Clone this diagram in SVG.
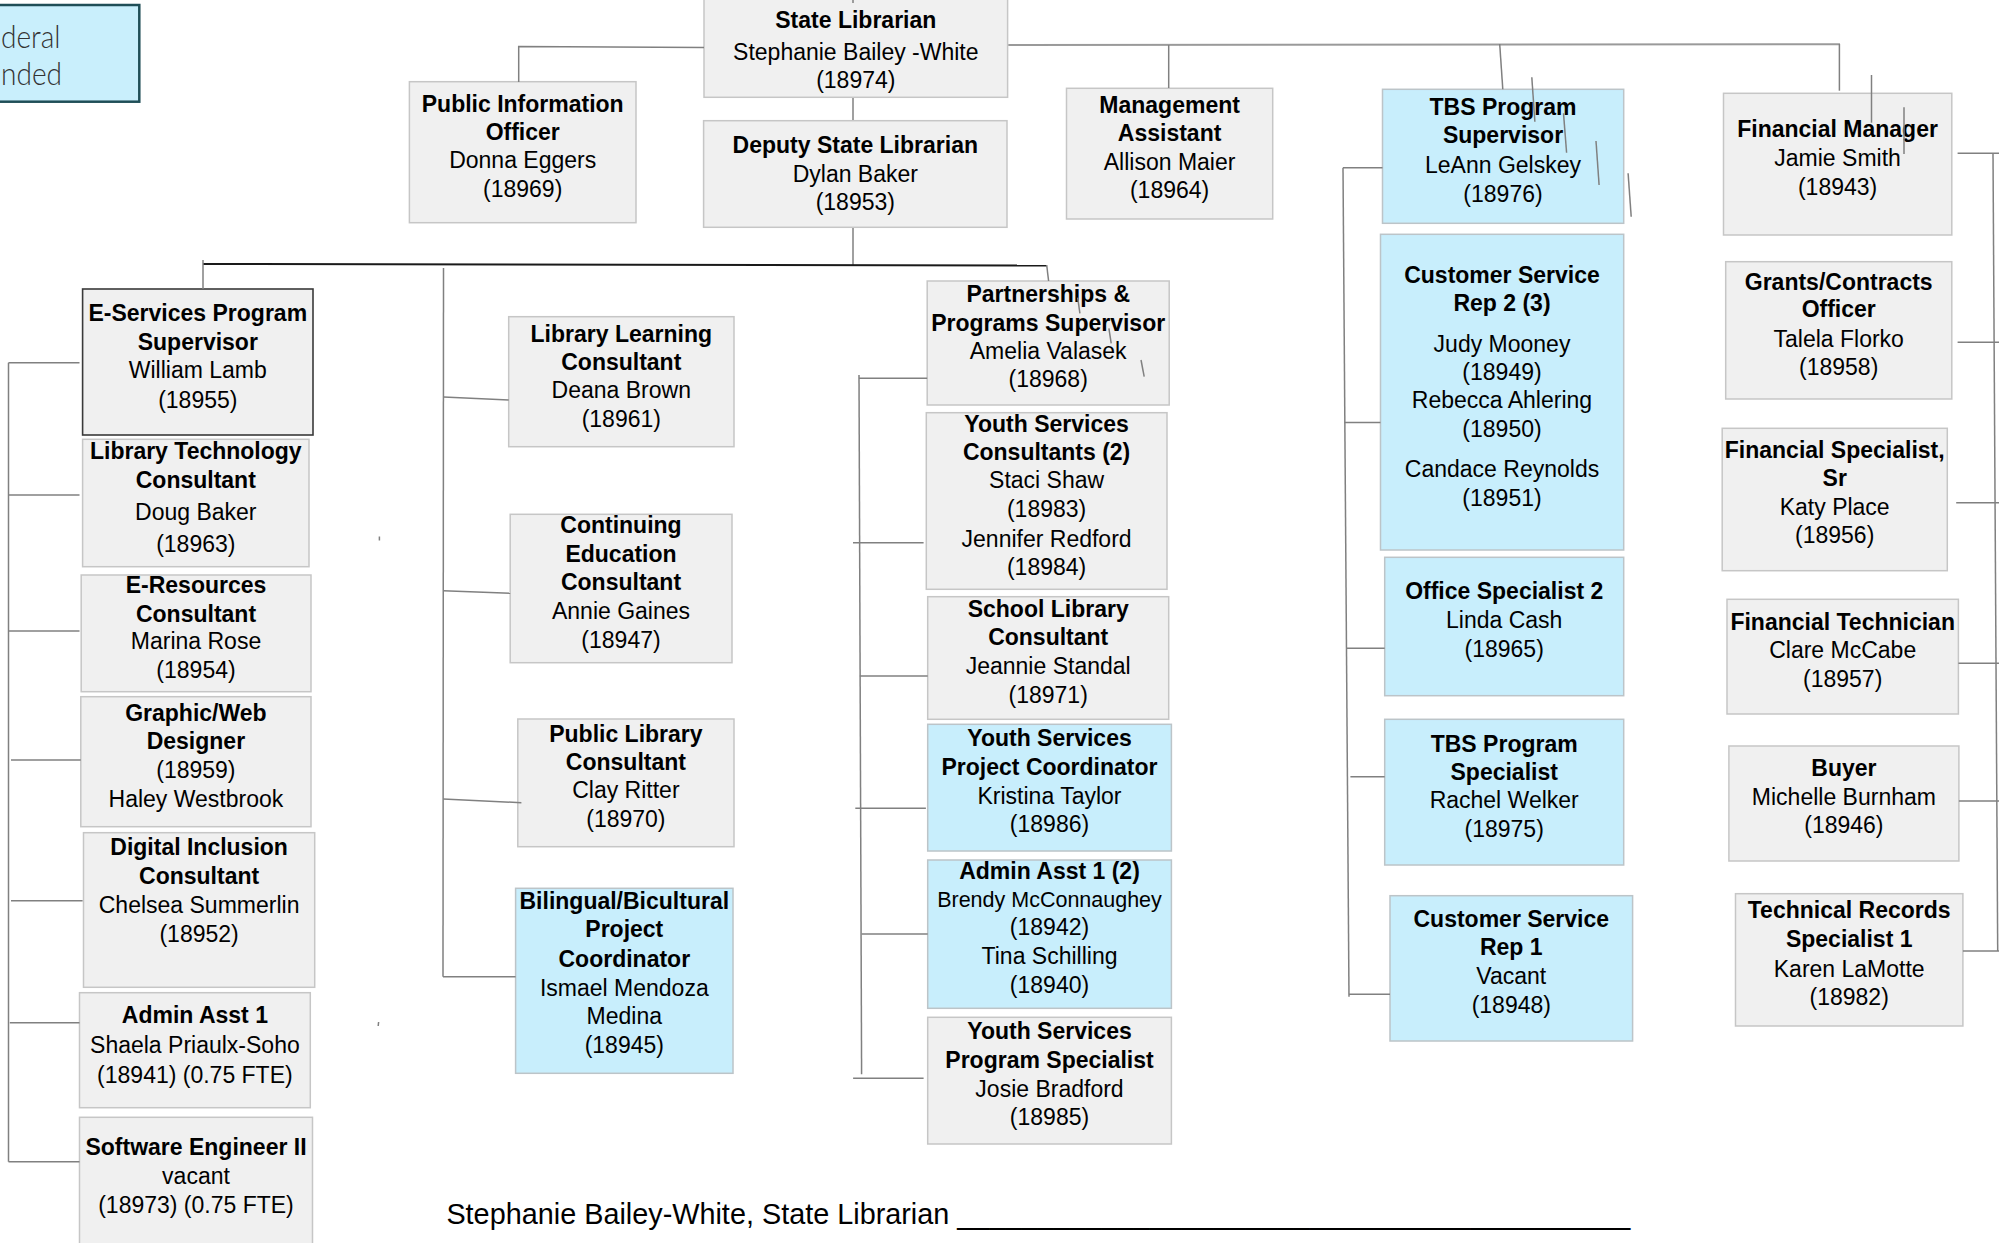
<svg xmlns="http://www.w3.org/2000/svg" width="1999" height="1243" viewBox="0 0 1999 1243">
<style>
.box{fill:#f0f0f0;stroke:#c6c6c6;stroke-width:1.5}
.blue{fill:#c8eefc;stroke:#bcc4c8;stroke-width:1.5}
.sup{fill:#f0f0f0;stroke:#3a3a3a;stroke-width:1.6}
text{font-family:"Liberation Sans",Arial,sans-serif;font-size:23px;fill:#000;text-anchor:middle}
.b{font-weight:700}
.sm{font-size:21.5px}
.ln{stroke:#808080;stroke-width:1.5;fill:none}
.bus{stroke:#1a1a1a;stroke-width:2;fill:none}
.top{stroke:#9a9a9a;stroke-width:2;fill:none}
.legend{font-family:Lato,"Open Sans",sans-serif;font-weight:300;font-size:31px;fill:#333;text-anchor:start}
.sig{font-size:29px;text-anchor:start}
</style>
<rect width="1999" height="1243" fill="#fff"/>

<g id="federal-funded-legend">
<rect x="-10" y="5" width="149.3" height="96.7" fill="#c9effc" stroke="#1f4e57" stroke-width="2.5"/>
<text class="legend" x="1" y="47.5" textLength="59.5" lengthAdjust="spacingAndGlyphs">deral</text>
<text class="legend" x="1" y="85" textLength="61" lengthAdjust="spacingAndGlyphs">nded</text>
</g>

<g id="state-librarian">
<rect class="box" x="704" y="-1" width="303.6" height="98.3"/>
<text class="b" x="855.8" y="28.3">State Librarian</text>
<text x="855.8" y="60">Stephanie Bailey -White</text>
<text x="855.8" y="88.3">(18974)</text>
</g>

<g id="public-information-officer">
<rect class="box" x="409.4" y="81.7" width="226.6" height="141"/>
<text class="b" x="522.7" y="112">Public Information</text>
<text class="b" x="522.7" y="140">Officer</text>
<text x="522.7" y="168">Donna Eggers</text>
<text x="522.7" y="197">(18969)</text>
</g>

<g id="deputy-state-librarian">
<rect class="box" x="703.6" y="120.7" width="303.4" height="106.6"/>
<text class="b" x="855.3" y="152.7">Deputy State Librarian</text>
<text x="855.3" y="181.7">Dylan Baker</text>
<text x="855.3" y="210">(18953)</text>
</g>

<g id="management-assistant">
<rect class="box" x="1066.5" y="88.3" width="206.2" height="130.7"/>
<text class="b" x="1169.6" y="113.3">Management</text>
<text class="b" x="1169.6" y="140.7">Assistant</text>
<text x="1169.6" y="170">Allison Maier</text>
<text x="1169.6" y="198.3">(18964)</text>
</g>

<g id="tbs-program-supervisor">
<rect class="blue" x="1382.5" y="89.3" width="241.2" height="134"/>
<text class="b" x="1503" y="115">TBS Program</text>
<text class="b" x="1503" y="143.3">Supervisor</text>
<text x="1503" y="172.7">LeAnn Gelskey</text>
<text x="1503" y="201.7">(18976)</text>
</g>

<g id="financial-manager">
<rect class="box" x="1723.5" y="93.3" width="228.3" height="141.7"/>
<text class="b" x="1837.6" y="136.7">Financial Manager</text>
<text x="1837.6" y="165.7">Jamie Smith</text>
<text x="1837.6" y="195">(18943)</text>
</g>

<g id="e-services-program-supervisor">
<rect class="sup" x="82.6" y="289" width="230.4" height="146"/>
<text class="b" x="197.8" y="320.7">E-Services Program</text>
<text class="b" x="197.8" y="350">Supervisor</text>
<text x="197.8" y="378">William Lamb</text>
<text x="197.8" y="408">(18955)</text>
</g>

<g id="library-learning-consultant">
<rect class="box" x="508.7" y="316.7" width="225.3" height="130"/>
<text class="b" x="621.3" y="341.7">Library Learning</text>
<text class="b" x="621.3" y="370">Consultant</text>
<text x="621.3" y="398">Deana Brown</text>
<text x="621.3" y="426.7">(18961)</text>
</g>

<g id="partnerships-programs-supervisor">
<rect class="box" x="927.2" y="281" width="242" height="124"/>
<text class="b" x="1048.2" y="301.7">Partnerships &amp;</text>
<text class="b" x="1048.2" y="330.7">Programs Supervisor</text>
<text x="1048.2" y="359.3">Amelia Valasek</text>
<text x="1048.2" y="386.7">(18968)</text>
</g>

<g id="customer-service-rep-2">
<rect class="blue" x="1380.5" y="234.3" width="243.2" height="315.7"/>
<text class="b" x="1502" y="282.7">Customer Service</text>
<text class="b" x="1502" y="310.7">Rep 2 (3)</text>
<text x="1502" y="351.7">Judy Mooney</text>
<text x="1502" y="380">(18949)</text>
<text x="1502" y="408.3">Rebecca Ahlering</text>
<text x="1502" y="437.3">(18950)</text>
<text x="1502" y="477.3">Candace Reynolds</text>
<text x="1502" y="506">(18951)</text>
</g>

<g id="grants-contracts-officer">
<rect class="box" x="1725.7" y="261.7" width="226.1" height="137.3"/>
<text class="b" x="1838.7" y="290">Grants/Contracts</text>
<text class="b" x="1838.7" y="317.3">Officer</text>
<text x="1838.7" y="346.7">Talela Florko</text>
<text x="1838.7" y="375">(18958)</text>
</g>

<g id="library-technology-consultant">
<rect class="box" x="82.6" y="439.3" width="226.4" height="127.4"/>
<text class="b" x="195.8" y="459.3">Library Technology</text>
<text class="b" x="195.8" y="487.7">Consultant</text>
<text x="195.8" y="520">Doug Baker</text>
<text x="195.8" y="551.7">(18963)</text>
</g>

<g id="youth-services-consultants">
<rect class="box" x="926.3" y="412.7" width="240.7" height="176.6"/>
<text class="b" x="1046.6" y="431.7">Youth Services</text>
<text class="b" x="1046.6" y="460">Consultants (2)</text>
<text x="1046.6" y="488.3">Staci Shaw</text>
<text x="1046.6" y="517.3">(18983)</text>
<text x="1046.6" y="546.7">Jennifer Redford</text>
<text x="1046.6" y="575">(18984)</text>
</g>

<g id="financial-specialist-sr">
<rect class="box" x="1722.2" y="428.3" width="225.1" height="142.4"/>
<text class="b" x="1834.7" y="458.3">Financial Specialist,</text>
<text class="b" x="1834.7" y="486">Sr</text>
<text x="1834.7" y="515">Katy Place</text>
<text x="1834.7" y="543.3">(18956)</text>
</g>

<g id="e-resources-consultant">
<rect class="box" x="81.2" y="575" width="229.8" height="116.7"/>
<text class="b" x="196" y="592.7">E-Resources</text>
<text class="b" x="196" y="621.7">Consultant</text>
<text x="196" y="649.3">Marina Rose</text>
<text x="196" y="678.3">(18954)</text>
</g>

<g id="continuing-education-consultant">
<rect class="box" x="510.2" y="514.3" width="221.8" height="148.4"/>
<text class="b" x="621" y="532.7">Continuing</text>
<text class="b" x="621" y="561.7">Education</text>
<text class="b" x="621" y="590">Consultant</text>
<text x="621" y="619.3">Annie Gaines</text>
<text x="621" y="647.7">(18947)</text>
</g>

<g id="school-library-consultant">
<rect class="box" x="927.7" y="596.7" width="241" height="122.6"/>
<text class="b" x="1048.2" y="616.7">School Library</text>
<text class="b" x="1048.2" y="645">Consultant</text>
<text x="1048.2" y="674">Jeannie Standal</text>
<text x="1048.2" y="702.7">(18971)</text>
</g>

<g id="office-specialist-2">
<rect class="blue" x="1384.7" y="557.3" width="239" height="138.4"/>
<text class="b" x="1504.2" y="599">Office Specialist 2</text>
<text x="1504.2" y="628.3">Linda Cash</text>
<text x="1504.2" y="657.3">(18965)</text>
</g>

<g id="financial-technician">
<rect class="box" x="1727" y="599.3" width="231.4" height="114.7"/>
<text class="b" x="1842.7" y="630">Financial Technician</text>
<text x="1842.7" y="658.3">Clare McCabe</text>
<text x="1842.7" y="687.3">(18957)</text>
</g>

<g id="graphic-web-designer">
<rect class="box" x="80.8" y="696.7" width="230.2" height="130"/>
<text class="b" x="195.9" y="720.7">Graphic/Web</text>
<text class="b" x="195.9" y="749.3">Designer</text>
<text x="195.9" y="778.3">(18959)</text>
<text x="195.9" y="807.3">Haley Westbrook</text>
</g>

<g id="public-library-consultant">
<rect class="box" x="517.8" y="719" width="216.2" height="127.7"/>
<text class="b" x="625.9" y="741.7">Public Library</text>
<text class="b" x="625.9" y="770">Consultant</text>
<text x="625.9" y="798.3">Clay Ritter</text>
<text x="625.9" y="827.3">(18970)</text>
</g>

<g id="youth-services-project-coordinator">
<rect class="blue" x="927.7" y="724.3" width="243.7" height="126.7"/>
<text class="b" x="1049.5" y="746">Youth Services</text>
<text class="b" x="1049.5" y="775">Project Coordinator</text>
<text x="1049.5" y="804">Kristina Taylor</text>
<text x="1049.5" y="832.3">(18986)</text>
</g>

<g id="tbs-program-specialist">
<rect class="blue" x="1384.7" y="719.3" width="239" height="145.7"/>
<text class="b" x="1504.2" y="751.7">TBS Program</text>
<text class="b" x="1504.2" y="780">Specialist</text>
<text x="1504.2" y="808.3">Rachel Welker</text>
<text x="1504.2" y="836.7">(18975)</text>
</g>

<g id="buyer">
<rect class="box" x="1728.9" y="746" width="230" height="115"/>
<text class="b" x="1843.9" y="776">Buyer</text>
<text x="1843.9" y="805">Michelle Burnham</text>
<text x="1843.9" y="833.3">(18946)</text>
</g>

<g id="digital-inclusion-consultant">
<rect class="box" x="83.5" y="832.7" width="231.2" height="154.6"/>
<text class="b" x="199.1" y="855">Digital Inclusion</text>
<text class="b" x="199.1" y="884">Consultant</text>
<text x="199.1" y="912.7">Chelsea Summerlin</text>
<text x="199.1" y="941.7">(18952)</text>
</g>

<g id="bilingual-bicultural-project-coordinator">
<rect class="blue" x="515.6" y="888.3" width="217.4" height="185"/>
<text class="b" x="624.3" y="909.3">Bilingual/Bicultural</text>
<text class="b" x="624.3" y="937.3">Project</text>
<text class="b" x="624.3" y="966.7">Coordinator</text>
<text x="624.3" y="995.7">Ismael Mendoza</text>
<text x="624.3" y="1024">Medina</text>
<text x="624.3" y="1052.7">(18945)</text>
</g>

<g id="admin-asst-1-2">
<rect class="blue" x="927.7" y="860" width="243.7" height="148.3"/>
<text class="b" x="1049.5" y="879.3">Admin Asst 1 (2)</text>
<text class="sm" x="1049.5" y="907.3">Brendy McConnaughey</text>
<text x="1049.5" y="935">(18942)</text>
<text x="1049.5" y="964">Tina Schilling</text>
<text x="1049.5" y="992.7">(18940)</text>
</g>

<g id="customer-service-rep-1">
<rect class="blue" x="1390" y="895.7" width="242.6" height="145.3"/>
<text class="b" x="1511.3" y="926.7">Customer Service</text>
<text class="b" x="1511.3" y="955">Rep 1</text>
<text x="1511.3" y="984">Vacant</text>
<text x="1511.3" y="1013.3">(18948)</text>
</g>

<g id="technical-records-specialist-1">
<rect class="box" x="1735.5" y="893.7" width="227.4" height="132.3"/>
<text class="b" x="1849.2" y="918.3">Technical Records</text>
<text class="b" x="1849.2" y="947.3">Specialist 1</text>
<text x="1849.2" y="976.7">Karen LaMotte</text>
<text x="1849.2" y="1005">(18982)</text>
</g>

<g id="admin-asst-1">
<rect class="box" x="79.5" y="992.7" width="230.8" height="115"/>
<text class="b" x="194.9" y="1023.3">Admin Asst 1</text>
<text x="194.9" y="1052.7">Shaela Priaulx-Soho</text>
<text x="194.9" y="1082.7">(18941) (0.75 FTE)</text>
</g>

<g id="youth-services-program-specialist">
<rect class="box" x="927.7" y="1017.3" width="243.7" height="126.7"/>
<text class="b" x="1049.5" y="1039.3">Youth Services</text>
<text class="b" x="1049.5" y="1068.3">Program Specialist</text>
<text x="1049.5" y="1096.7">Josie Bradford</text>
<text x="1049.5" y="1125">(18985)</text>
</g>

<g id="software-engineer-ii">
<rect class="box" x="79.5" y="1117.3" width="233" height="135"/>
<text class="b" x="196" y="1155">Software Engineer II</text>
<text x="196" y="1184">vacant</text>
<text x="196" y="1213.3">(18973) (0.75 FTE)</text>
</g>

<g id="connectors">
<polyline class="ln" points="518.7,82 518.7,46.5 704,47.5"/>
<line class="ln" x1="853" y1="0" x2="853" y2="3"/>
<line class="ln" x1="853" y1="98" x2="853" y2="120"/>
<line class="ln" x1="853" y1="228" x2="853" y2="265"/>
<line class="bus" x1="203" y1="264" x2="1047" y2="265.5"/>
<line class="ln" x1="203" y1="260" x2="203" y2="289"/>
<line class="ln" x1="1046.7" y1="265" x2="1048.6" y2="281"/>
<line class="top" x1="1008.3" y1="45" x2="1840" y2="44.3"/>
<line class="ln" x1="1168.7" y1="45" x2="1168.7" y2="88"/>
<line class="ln" x1="1499.7" y1="44" x2="1502.8" y2="89.3"/>
<line class="ln" x1="1839.4" y1="44" x2="1839.4" y2="90.7"/>
<line class="ln" x1="1531.8" y1="77.3" x2="1534.9" y2="121.7"/>
<line class="ln" x1="1563.5" y1="113.3" x2="1566.6" y2="152.7"/>
<line class="ln" x1="1596" y1="141" x2="1599.1" y2="185"/>
<line class="ln" x1="1628.1" y1="173.3" x2="1631.2" y2="216.7"/>
<line class="ln" x1="1871.5" y1="75" x2="1871.5" y2="122.7"/>
<line class="ln" x1="1904" y1="107.3" x2="1904" y2="154"/>
<line class="ln" x1="1077.7" y1="297.7" x2="1079.9" y2="313.3"/>
<line class="ln" x1="1108.9" y1="328.3" x2="1111.2" y2="343.3"/>
<line class="ln" x1="1141" y1="360" x2="1144.2" y2="376.7"/>
<line class="ln" x1="379.4" y1="536.5" x2="379.4" y2="540.5"/>
<line class="ln" x1="378.6" y1="1022" x2="378.2" y2="1026"/>
<line class="ln" x1="8.5" y1="362.7" x2="8.5" y2="1161.7"/>
<line class="ln" x1="8.5" y1="362.7" x2="79.5" y2="362.7"/>
<line class="ln" x1="8.5" y1="495" x2="79.5" y2="495"/>
<line class="ln" x1="8.5" y1="631" x2="79.5" y2="631"/>
<line class="ln" x1="11" y1="760" x2="80.8" y2="760"/>
<line class="ln" x1="11" y1="900.7" x2="82.6" y2="900.7"/>
<line class="ln" x1="9.8" y1="1022.7" x2="79.5" y2="1022.7"/>
<line class="ln" x1="8.5" y1="1161.7" x2="79.5" y2="1161.7"/>
<line class="ln" x1="443.5" y1="268" x2="443" y2="976.7"/>
<line class="ln" x1="443.5" y1="397" x2="508.7" y2="400"/>
<line class="ln" x1="443.3" y1="590.7" x2="510.2" y2="593.3"/>
<line class="ln" x1="443.2" y1="799" x2="521.4" y2="802.7"/>
<line class="ln" x1="443" y1="976.7" x2="515.6" y2="976.7"/>
<line class="ln" x1="859" y1="375" x2="861.6" y2="1074.3"/>
<line class="ln" x1="859" y1="378.3" x2="927.2" y2="378.3"/>
<line class="ln" x1="853" y1="542.7" x2="923.6" y2="542.7"/>
<line class="ln" x1="859.8" y1="676" x2="927.7" y2="676"/>
<line class="ln" x1="855.3" y1="808.3" x2="925.9" y2="808.3"/>
<line class="ln" x1="861.6" y1="934" x2="927.7" y2="934"/>
<line class="ln" x1="853.1" y1="1078.3" x2="923.6" y2="1078.3"/>
<line class="ln" x1="1343" y1="167.7" x2="1349" y2="996.7"/>
<line class="ln" x1="1343" y1="167.7" x2="1382.5" y2="167.7"/>
<line class="ln" x1="1344.6" y1="422.5" x2="1380.5" y2="422.5"/>
<line class="ln" x1="1346.2" y1="648.3" x2="1384.7" y2="648.3"/>
<line class="ln" x1="1350.4" y1="776.7" x2="1384.7" y2="776.7"/>
<line class="ln" x1="1349" y1="994.3" x2="1390" y2="994.3"/>
<line class="ln" x1="1993" y1="153.3" x2="1997.7" y2="951"/>
<line class="ln" x1="1957.6" y1="153.3" x2="1999" y2="153.3"/>
<line class="ln" x1="1957.6" y1="342.3" x2="1999" y2="342.3"/>
<line class="ln" x1="1956.2" y1="502.7" x2="1999" y2="502.7"/>
<line class="ln" x1="1958.4" y1="663.3" x2="1999" y2="663.3"/>
<line class="ln" x1="1958.9" y1="801" x2="1999" y2="801"/>
<line class="ln" x1="1962.9" y1="951" x2="1999" y2="951"/>
</g>

<g id="signature">
<text class="sig" x="446.4" y="1224" textLength="1184" lengthAdjust="spacingAndGlyphs">Stephanie Bailey-White, State Librarian __________________________________________</text>
</g>
</svg>
